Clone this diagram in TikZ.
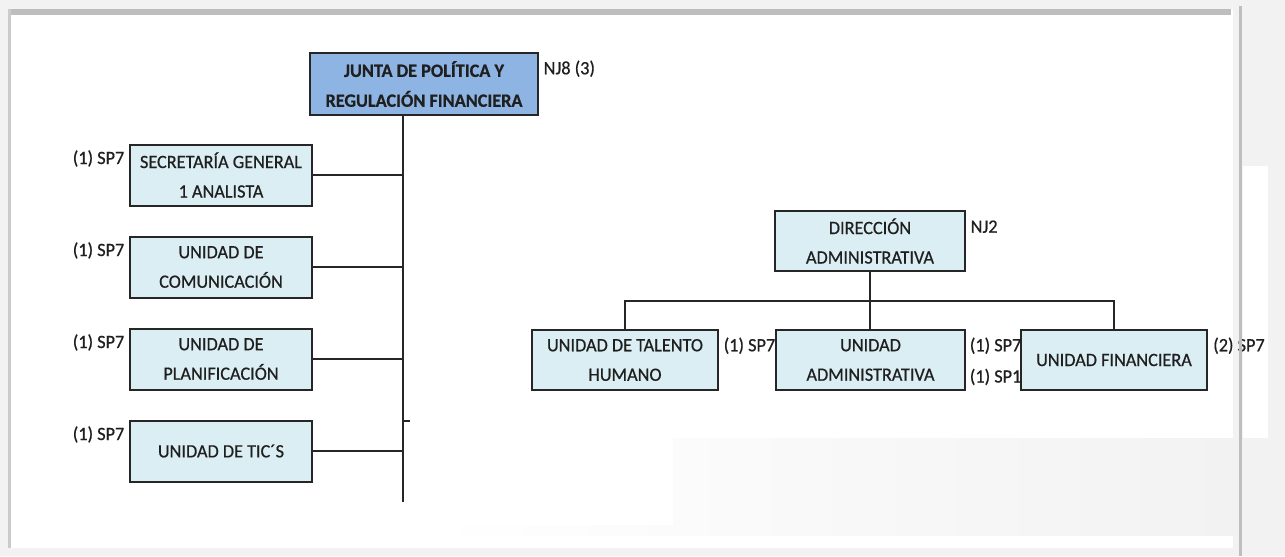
\documentclass[tikz,border=0pt]{standalone}
\usepackage{fontspec}
\setmainfont{Carlito}[FakeBold=0.6,FakeStretch=0.97]
\usepackage{tikz}
\usetikzlibrary{positioning}
\usetikzlibrary{calc}
\definecolor{azuljunta}{HTML}{8DB4E2}
\definecolor{celeste}{HTML}{DBEEF4}
\definecolor{fondo}{HTML}{F2F2F2}
\definecolor{marco}{HTML}{BEBEBE}
\tikzstyle{unidad}=[draw=black!85,fill=celeste,line width=0.04cm,align=center,inner sep=1pt,minimum width=3.64cm,minimum height=1.22cm,text=black!88,font=\fontsize{10.7}{16.8}\selectfont]
\tikzstyle{junta}=[unidad,fill=azuljunta,font=\bfseries\fontsize{10.7}{17}\selectfont]
\tikzstyle{etiqueta}=[inner sep=0pt,text=black!88,font=\fontsize{10.7}{13}\selectfont]
\tikzstyle{enlace}=[line width=0.04cm,black!85]

\begin{document}
\begin{tikzpicture}[x=0.02cm,y=-0.02cm]
% fondo de la captura
\useasboundingbox (0,0) rectangle (1285,556);
\fill[fondo] (0,0) rectangle (1285,556);
\fill[white] (8,9) rectangle (1233,548);
\fill[white] (1243,166) rectangle (1268,438);
\shade[left color=white!70!fondo,right color=fondo] (673,438) rectangle (1233,535);
\shade[left color=white,right color=white!70!fondo] (430,525) rectangle (673,535);

% lado izquierdo
\node [junta,minimum width=4.56cm,minimum height=1.24cm] (junta) at (424,84) {JUNTA DE POLÍTICA Y\\REGULACIÓN FINANCIERA};
\node [unidad] (sec) at (221,175) {SECRETARÍA GENERAL\\1 ANALISTA};
\node [unidad] (com) at (221,267) {UNIDAD DE\\COMUNICACIÓN};
\node [unidad] (pla) at (221,359) {UNIDAD DE\\PLANIFICACIÓN};
\node [unidad] (tic) at (221,451) {UNIDAD DE TIC´S};

\coordinate (pie) at (403,502);
\coordinate (marca) at (410,421);
\draw[enlace] (junta.south -| pie) -- (pie);
\foreach \u in {sec,com,pla,tic}
  \draw[enlace] (\u.east) -- (\u.east -| pie);
\draw[enlace] (marca) -- (marca -| pie);

\node [etiqueta,anchor=west] at (junta.north east) [xshift=2.5pt,yshift=-9.5pt] {NJ8 (3)};
\foreach \u in {sec,com,pla,tic}
  \node [etiqueta,anchor=east] at (\u.north west) [xshift=-2.5pt,yshift=-8.5pt] {(1) SP7};

% lado derecho
\node [unidad,minimum width=3.8cm,minimum height=1.2cm] (dir) at (870,241) {DIRECCIÓN\\ADMINISTRATIVA};
\node [unidad,minimum width=3.72cm,minimum height=1.2cm] (tal) at (625,360) {UNIDAD DE TALENTO\\HUMANO};
\node [unidad,minimum width=3.78cm,minimum height=1.2cm] (adm) at (870.5,360) {UNIDAD\\ADMINISTRATIVA};
\node [unidad,minimum width=3.74cm,minimum height=1.2cm] (fin) at (1114,360) {UNIDAD FINANCIERA};

\coordinate (bus) at ($(dir.south)+(0,29)$);
\draw[enlace] (dir.south) -- (bus);
\draw[enlace] (tal.north) |- (bus) -| (fin.north);
\draw[enlace] (bus) -- (bus |- adm.north);

\node [etiqueta,anchor=west] at (dir.north east) [xshift=2.5pt,yshift=-9.5pt] {NJ2};
\node [etiqueta,anchor=west] at (tal.north east) [xshift=2.5pt,yshift=-9.5pt] {(1) SP7};
\node [etiqueta,anchor=west] (admA) at (adm.north east) [xshift=2pt,yshift=-9.5pt] {(1) SP7};
\node [etiqueta,anchor=west] at (adm.south east) [xshift=2pt,yshift=8pt] {(1) SP1};
\node [etiqueta,anchor=west] at (fin.north east) [xshift=2.5pt,yshift=-9.5pt] {(2) SP7};

% bordes de la ventana
\fill[marco] (8,9) rectangle (1231,15);
\fill[marco!80] (8,9) rectangle (11,548);
\fill[marco] (1239,6) rectangle (1241.5,556);
\end{tikzpicture}
\end{document}
